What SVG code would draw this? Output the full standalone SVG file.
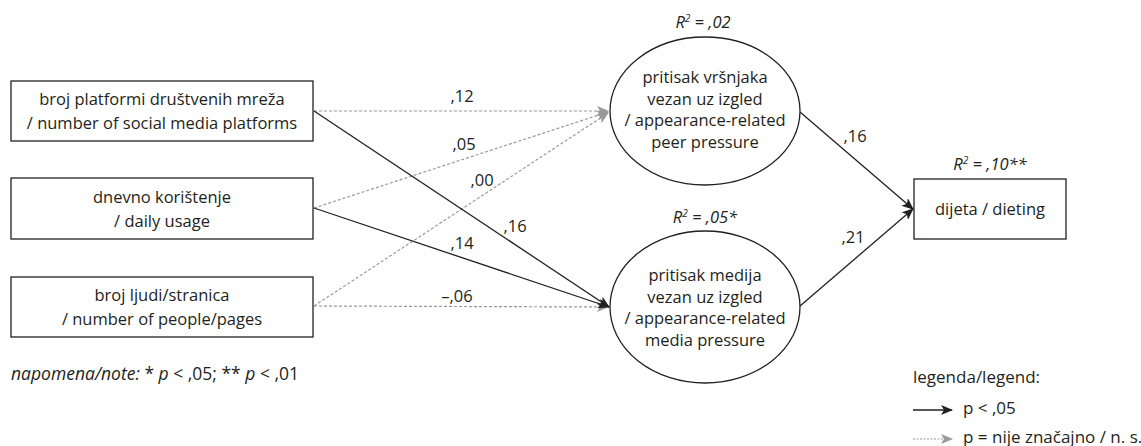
<svg xmlns="http://www.w3.org/2000/svg" width="1141" height="446" viewBox="0 0 1141 446">
<style>
text{font-family:"Open Sans","Liberation Sans",sans-serif;font-size:16.5px;fill:#231f20}
.c{text-anchor:middle}
.i{font-style:italic}
.node{fill:#fff;stroke:#231f20;stroke-width:1.3}
.sig{fill:none;stroke:#231f20;stroke-width:1.3}
.ns{fill:none;stroke:#9a9a9a;stroke-width:1.2;stroke-dasharray:3 2}
.lg{font-size:17px}
</style>
<defs>
<marker id="ab" viewBox="0 0 12 10" refX="11" refY="5" markerWidth="12" markerHeight="10" markerUnits="userSpaceOnUse" orient="auto">
<path d="M0,0 L12,5 L0,10 L3,5 z" fill="#231f20"/>
</marker>
<marker id="ag" viewBox="0 0 12 10" refX="11" refY="5" markerWidth="12" markerHeight="10" markerUnits="userSpaceOnUse" orient="auto">
<path d="M0,0 L12,5 L0,10 L3,5 z" fill="#9a9a9a"/>
</marker>
</defs>
<rect width="1141" height="446" fill="#fff"/>
<g id="connectors">
<line class="ns" x1="314" y1="111" x2="608" y2="111" marker-end="url(#ag)"/>
<line class="ns" x1="314" y1="208" x2="608" y2="112" marker-end="url(#ag)"/>
<line class="ns" x1="314" y1="306" x2="608" y2="113" marker-end="url(#ag)"/>
<line class="ns" x1="314" y1="306" x2="608" y2="307" marker-end="url(#ag)"/>
<line class="sig" x1="314" y1="111" x2="609" y2="307" marker-end="url(#ab)"/>
<line class="sig" x1="314" y1="208" x2="609" y2="307" marker-end="url(#ab)"/>
<line class="sig" x1="800" y1="112" x2="913" y2="209" marker-end="url(#ab)"/>
<line class="sig" x1="800" y1="306" x2="913" y2="209" marker-end="url(#ab)"/>
<text class="c" x="462" y="102">,12</text>
<text class="c" x="464" y="150">,05</text>
<text class="c" x="482" y="186">,00</text>
<text class="c" x="515" y="232">,16</text>
<text class="c" x="462" y="249">,14</text>
<text class="c" x="457" y="302">–,06</text>
<text class="c" x="855" y="142">,16</text>
<text class="c" x="853" y="243">,21</text>
</g>
<g id="n1">
<rect class="node" x="11" y="81" width="302" height="60"/>
<text class="c" x="162" y="105">broj platformi društvenih mreža</text>
<text class="c" x="162" y="129">/ number of social media platforms</text>
</g>
<g id="n2">
<rect class="node" x="11" y="178" width="302" height="61"/>
<text class="c" x="162" y="203">dnevno korištenje</text>
<text class="c" x="162" y="227">/ daily usage</text>
</g>
<g id="n3">
<rect class="node" x="11" y="277" width="302" height="60"/>
<text class="c" x="162" y="301">broj ljudi/stranica</text>
<text class="c" x="162" y="325">/ number of people/pages</text>
</g>
<g id="n4">
<ellipse class="node" cx="705" cy="111" rx="95" ry="74"/>
<text class="c i" x="703" y="28">R<tspan font-size="10" dy="-6">2</tspan><tspan dy="6"> = ,02</tspan></text>
<text class="c" x="705" y="83">pritisak vršnjaka</text>
<text class="c" x="705" y="105">vezan uz izgled</text>
<text class="c" x="705" y="126">/ appearance-related</text>
<text class="c" x="705" y="148">peer pressure</text>
</g>
<g id="n5">
<ellipse class="node" cx="705" cy="307" rx="95" ry="76"/>
<text class="c i" x="705" y="223">R<tspan font-size="10" dy="-6">2</tspan><tspan dy="6"> = ,05*</tspan></text>
<text class="c" x="705" y="281">pritisak medija</text>
<text class="c" x="705" y="303">vezan uz izgled</text>
<text class="c" x="705" y="324">/ appearance-related</text>
<text class="c" x="705" y="346">media pressure</text>
</g>
<g id="n6">
<rect class="node" x="914" y="179" width="152" height="60"/>
<text class="c i" x="990" y="170">R<tspan font-size="10" dy="-6">2</tspan><tspan dy="6"> = ,10**</tspan></text>
<text class="c" x="990" y="215">dijeta / dieting</text>
</g>
<g id="note">
<text x="11" y="380" style="font-size:17.5px"><tspan class="i">napomena/note:</tspan> * <tspan class="i">p</tspan> &lt; ,05; ** <tspan class="i">p</tspan> &lt; ,01</text>
</g>
<g id="legend">
<text class="lg" x="913" y="383">legenda/legend:</text>
<line class="sig" x1="913" y1="410" x2="952" y2="410" marker-end="url(#ab)"/>
<text class="lg" x="963" y="414">p &lt; ,05</text>
<line class="ns" x1="913" y1="439" x2="952" y2="439" style="stroke-dasharray:2 1.5" marker-end="url(#ag)"/>
<text class="lg" x="963" y="443">p = nije značajno / n. s.</text>
</g>
</svg>
